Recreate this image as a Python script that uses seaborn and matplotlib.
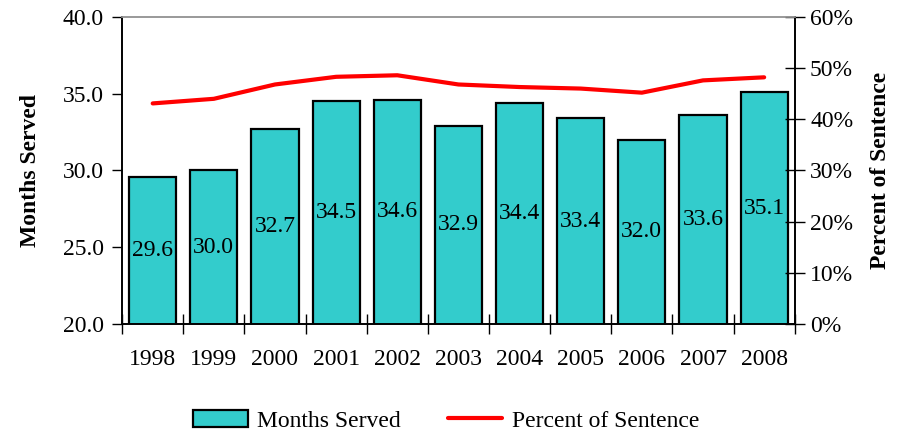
import pandas as pd
import matplotlib.pyplot as plt
import seaborn as sns
from matplotlib.ticker import FuncFormatter, FixedLocator

years = ['1998', '1999', '2000', '2001', '2002', '2003', '2004', '2005', '2006', '2007', '2008']
months_served = [29.6, 30.0, 32.7, 34.5, 34.6, 32.9, 34.4, 33.4, 32.0, 33.6, 35.1]
pct_sentence = [43.1, 44.0, 46.8, 48.3, 48.6, 46.8, 46.3, 46.0, 45.2, 47.6, 48.2]

df = pd.DataFrame({'Year': years, 'Months Served': months_served,
                   'Percent of Sentence': pct_sentence})

sns.set_style('white')
plt.rcParams['font.family'] = ['Liberation Serif', 'DejaVu Serif']
plt.rcParams['text.color'] = 'black'
plt.rcParams['axes.labelcolor'] = 'black'
plt.rcParams['xtick.color'] = 'black'
plt.rcParams['ytick.color'] = 'black'
fs = 17

fig = plt.figure(figsize=(8.98, 4.34), dpi=100)
ax = fig.add_axes([0.136, 0.2535, 0.749, 0.7075])

sns.barplot(data=df, x='Year', y='Months Served', color='#33CCCC', saturation=1,
            edgecolor='black', linewidth=1.6, width=0.77, ax=ax,
            label='Months Served', legend=False)
ax.bar_label(ax.containers[0], fmt='%.1f', label_type='center', fontsize=fs)
ax.set_ylim(20, 40)
ax.set_yticks([20, 25, 30, 35, 40])
ax.yaxis.set_major_formatter(FuncFormatter(lambda v, p: f'{v:.1f}'))
ax.set_xlim(-0.5, len(years) - 0.5)
ax.set_xlabel('')
ax.set_ylabel('Months Served', fontsize=fs, fontweight='bold', labelpad=16)
ax.tick_params(axis='y', direction='out', length=7, width=1, labelsize=fs, left=True, pad=6)
ax.tick_params(axis='x', which='major', length=0, labelsize=fs, pad=18)
ax.xaxis.set_minor_locator(FixedLocator([i - 0.5 for i in range(len(years) + 1)]))
ax.tick_params(axis='x', which='minor', bottom=True, direction='inout', length=14, width=1)

ax2 = ax.twinx()
sns.lineplot(data=df, x='Year', y='Percent of Sentence', color='red', linewidth=3,
             ax=ax2, label='Percent of Sentence', legend=False)
ax2.set_ylim(0, 60)
ax2.set_yticks(range(0, 61, 10))
ax2.yaxis.set_major_formatter(FuncFormatter(lambda v, p: f'{v:.0f}%'))
ax2.set_ylabel('Percent of Sentence', fontsize=fs, fontweight='bold', labelpad=12)
ax2.tick_params(axis='y', direction='inout', length=14, width=1, labelsize=fs, right=True, pad=4)
ax2.tick_params(axis='x', which='both', length=0)
ax2.set_xlim(-0.5, len(years) - 0.5)

for a in (ax, ax2):
    for side in ('left', 'right', 'bottom'):
        a.spines[side].set_color('black')
        a.spines[side].set_linewidth(1.2)
    a.spines['top'].set_color('#999999')
    a.spines['top'].set_linewidth(1.2)

h1, l1 = ax.get_legend_handles_labels()
h2, l2 = ax2.get_legend_handles_labels()
fig.legend(h1 + h2, l1 + l2, loc='center', bbox_to_anchor=(0.497, 0.03), ncol=2,
           frameon=False, fontsize=fs, handlelength=2.3, handleheight=0.7,
           columnspacing=2.0, handletextpad=0.4)

fig.savefig('out.png', dpi=100)
